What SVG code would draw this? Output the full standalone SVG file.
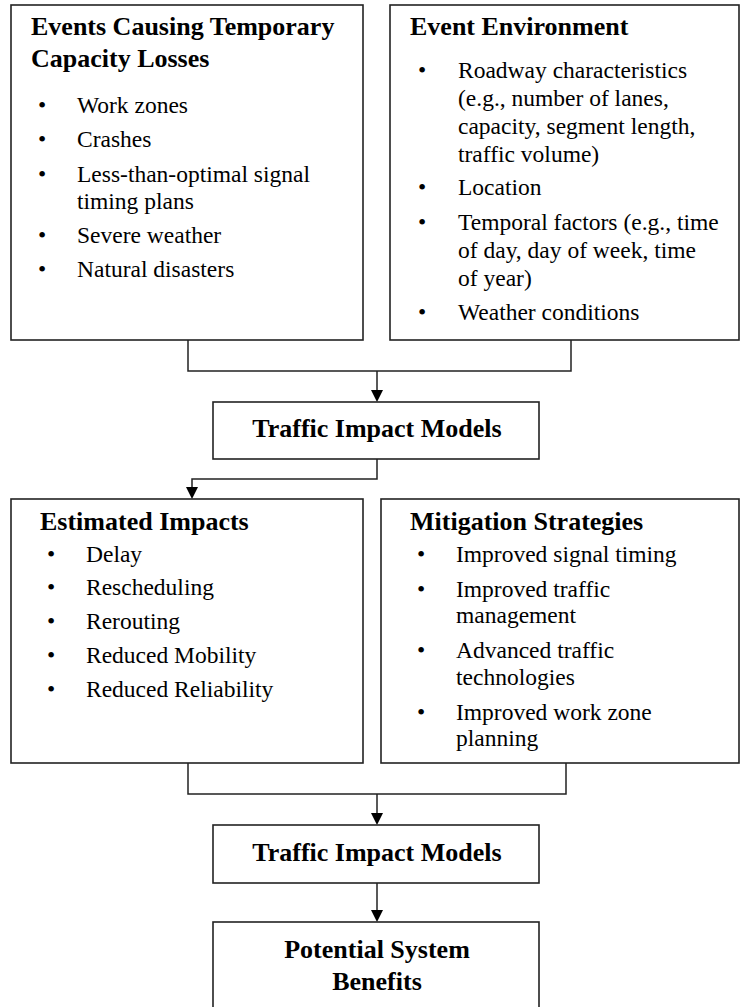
<svg xmlns="http://www.w3.org/2000/svg" width="740" height="1007" viewBox="0 0 740 1007">
<style>
.box{fill:#fff;stroke:#222;stroke-width:1.6}
.ln{fill:none;stroke:#222;stroke-width:1.5}
.t{font-family:"Liberation Serif","Times New Roman",serif;font-size:26px;font-weight:bold;fill:#000}
.b{font-family:"Liberation Serif","Times New Roman",serif;font-size:23.5px;fill:#000}
.c{text-anchor:middle}
</style>
<defs>
<marker id="arr" markerUnits="userSpaceOnUse" markerWidth="12" markerHeight="13" refX="6" refY="12" orient="auto-start-reverse" viewBox="0 0 12 13">
<path d="M0,0 L12,0 L6,12 Z" fill="#000" transform="rotate(0)"/>
</marker>
</defs>
<rect width="740" height="1007" fill="#fff"/>
<g id="connectors">
<path class="ln" d="M188,340 V371 H571 V340"/>
<path class="ln" d="M377,371 V390"/>
<polygon points="371,390 383,390 377,402" fill="#000"/>
<path class="ln" d="M377,459 V479 H192 V487"/>
<polygon points="186,487 198,487 192,499" fill="#000"/>
<path class="ln" d="M188,763 V794 H566 V763"/>
<path class="ln" d="M377,794 V813"/>
<polygon points="371,813 383,813 377,825" fill="#000"/>
<path class="ln" d="M377,883 V910"/>
<polygon points="371,910 383,910 377,922" fill="#000"/>
</g>
<g id="events">
<rect class="box" x="11" y="5" width="352" height="335"/>
<text class="t" x="31" y="35">Events Causing Temporary</text>
<text class="t" x="31" y="67">Capacity Losses</text>
<g class="b">
<text x="38" y="113">•</text><text x="77" y="113">Work zones</text>
<text x="38" y="147">•</text><text x="77" y="147">Crashes</text>
<text x="38" y="182">•</text><text x="77" y="182">Less-than-optimal signal</text>
<text x="77" y="209">timing plans</text>
<text x="38" y="243">•</text><text x="77" y="243">Severe weather</text>
<text x="38" y="277">•</text><text x="77" y="277">Natural disasters</text>
</g>
</g>
<g id="environment">
<rect class="box" x="390" y="5" width="349" height="335"/>
<text class="t" x="410" y="35">Event Environment</text>
<g class="b">
<text x="418" y="78">•</text><text x="458" y="78">Roadway characteristics</text>
<text x="458" y="106">(e.g., number of lanes,</text>
<text x="458" y="134">capacity, segment length,</text>
<text x="458" y="162">traffic volume)</text>
<text x="418" y="195">•</text><text x="458" y="195">Location</text>
<text x="418" y="230">•</text><text x="458" y="230">Temporal factors (e.g., time</text>
<text x="458" y="258">of day, day of week, time</text>
<text x="458" y="286">of year)</text>
<text x="418" y="320">•</text><text x="458" y="320">Weather conditions</text>
</g>
</g>
<g id="tim1">
<rect class="box" x="213" y="402" width="326" height="57"/>
<text class="t c" x="377" y="437">Traffic Impact Models</text>
</g>
<g id="impacts">
<rect class="box" x="11" y="499" width="352" height="264"/>
<text class="t" x="40" y="530">Estimated Impacts</text>
<g class="b">
<text x="47" y="562">•</text><text x="86" y="562">Delay</text>
<text x="47" y="595">•</text><text x="86" y="595">Rescheduling</text>
<text x="47" y="629">•</text><text x="86" y="629">Rerouting</text>
<text x="47" y="663">•</text><text x="86" y="663">Reduced Mobility</text>
<text x="47" y="697">•</text><text x="86" y="697">Reduced Reliability</text>
</g>
</g>
<g id="mitigation">
<rect class="box" x="381" y="499" width="358" height="264"/>
<text class="t" x="410" y="530">Mitigation Strategies</text>
<g class="b">
<text x="417" y="562">•</text><text x="456" y="562">Improved signal timing</text>
<text x="417" y="597">•</text><text x="456" y="597">Improved traffic</text>
<text x="456" y="623">management</text>
<text x="417" y="658">•</text><text x="456" y="658">Advanced traffic</text>
<text x="456" y="685">technologies</text>
<text x="417" y="720">•</text><text x="456" y="720">Improved work zone</text>
<text x="456" y="746">planning</text>
</g>
</g>
<g id="tim2">
<rect class="box" x="213" y="825" width="326" height="58"/>
<text class="t c" x="377" y="861">Traffic Impact Models</text>
</g>
<g id="benefits">
<rect class="box" x="213" y="922" width="326" height="100"/>
<text class="t c" x="377" y="958">Potential System</text>
<text class="t c" x="377" y="990">Benefits</text>
</g>
</svg>
